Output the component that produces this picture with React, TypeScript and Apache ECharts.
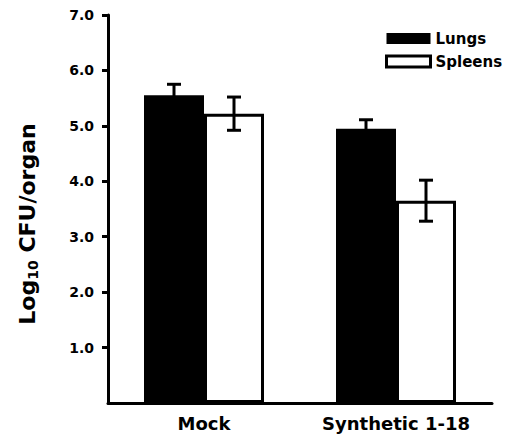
import React, { useEffect, useRef } from "react";
import * as echarts from "echarts";

const categories = ["Mock", "Synthetic 1-18"];
const lungs = [5.55, 4.95];
const spleens = [5.22, 3.65];
const lungsErr = [0.2, 0.16];
const spleensErr = [0.3, 0.37];
const yTicks = [1, 2, 3, 4, 5, 6, 7];

const FONT = "DejaVu Sans";
const GAP = 0.375;

export default function App() {
  const ref = useRef<HTMLDivElement>(null);
  useEffect(() => {
    const chart = echarts.init(ref.current!, null, { renderer: "svg" });
    const errData = (vals: number[], errs: number[], idx: number) =>
      vals.map((v, i) => [i, v - errs[i], v + errs[i], idx]);
    const renderErr = (params: any, api: any) => {
      const i = api.value(0);
      const lo = api.coord([i, api.value(1)]);
      const hi = api.coord([i, api.value(2)]);
      const s = api.value(3);
      const band = api.size([1, 0])[0];
      const barW = (band * (1 - GAP)) / 2;
      const x = lo[0] + (s === 0 ? -barW / 2 : barW / 2);
      const cap = 7;
      const style = { stroke: "#000", lineWidth: 3 };
      return {
        type: "group",
        children: [
          { type: "line", shape: { x1: x, y1: lo[1], x2: x, y2: hi[1] }, style },
          { type: "line", shape: { x1: x - cap, y1: hi[1], x2: x + cap, y2: hi[1] }, style },
          { type: "line", shape: { x1: x - cap, y1: lo[1], x2: x + cap, y2: lo[1] }, style },
        ],
      };
    };
    chart.setOption({
      animation: false,
      backgroundColor: "#fff",
      grid: { left: 108, right: 17, top: 15, bottom: 33 },
      legend: {
        orient: "vertical",
        left: 380,
        top: 26,
        itemWidth: 44,
        itemHeight: 11,
        itemGap: 8,
        textStyle: { fontFamily: FONT, fontWeight: "bold", fontSize: 15, color: "#000" },
        data: [
          { name: "Lungs", icon: "rect", itemStyle: { color: "#000", borderWidth: 0 } },
          { name: "Spleens", icon: "rect", itemStyle: { color: "#fff", borderColor: "#000", borderWidth: 3 } },
        ],
      },
      xAxis: {
        type: "category",
        data: categories,
        axisLine: { lineStyle: { color: "#000", width: 3 } },
        axisTick: { show: false },
        axisLabel: { interval: 0, fontFamily: FONT, fontWeight: "bold", fontSize: 18, color: "#000", margin: 11 },
      },
      yAxis: {
        type: "value",
        min: 0,
        max: 7,
        interval: 1,
        splitLine: { show: false },
        axisLine: { show: true, lineStyle: { color: "#000", width: 3 } },
        axisTick: { show: true, length: 6, customValues: yTicks, lineStyle: { color: "#000", width: 3 } },
        axisLabel: {
          customValues: yTicks,
          fontFamily: FONT,
          fontWeight: "bold",
          fontSize: 14,
          color: "#000",
          margin: 14,
          formatter: (v: number) => v.toFixed(1),
        },
      },
      graphic: [
        {
          type: "text",
          x: 27,
          y: 224,
          rotation: Math.PI / 2,
          style: {
            text: "{a|Log}{b|10}{a| CFU/organ}",
            align: "center",
            verticalAlign: "middle",
            fill: "#000",
            rich: {
              a: { fontFamily: FONT, fontWeight: "bold", fontSize: 22, lineHeight: 26, verticalAlign: "middle", fill: "#000" },
              b: { fontFamily: FONT, fontWeight: "bold", fontSize: 14, lineHeight: 14, verticalAlign: "bottom", fill: "#000" },
            },
          },
        },
      ],
      series: [
        {
          name: "Lungs",
          type: "bar",
          data: lungs,
          barGap: "0%",
          barCategoryGap: "37.5%",
          itemStyle: { color: "#000" },
        },
        {
          name: "Spleens",
          type: "bar",
          data: spleens,
          itemStyle: { color: "#fff", borderColor: "#000", borderWidth: 3 },
        },
        {
          type: "custom",
          data: errData(lungs, lungsErr, 0),
          renderItem: renderErr,
          encode: { x: 0, y: [1, 2] },
          z: 10,
        },
        {
          type: "custom",
          data: errData(spleens, spleensErr, 1),
          renderItem: renderErr,
          encode: { x: 0, y: [1, 2] },
          z: 10,
        },
      ],
    });
    return () => chart.dispose();
  }, []);
  return (
    <div
      ref={ref}
      style={{ position: "fixed", left: 0, top: 0, width: 509, height: 436, background: "#fff" }}
    />
  );
}
